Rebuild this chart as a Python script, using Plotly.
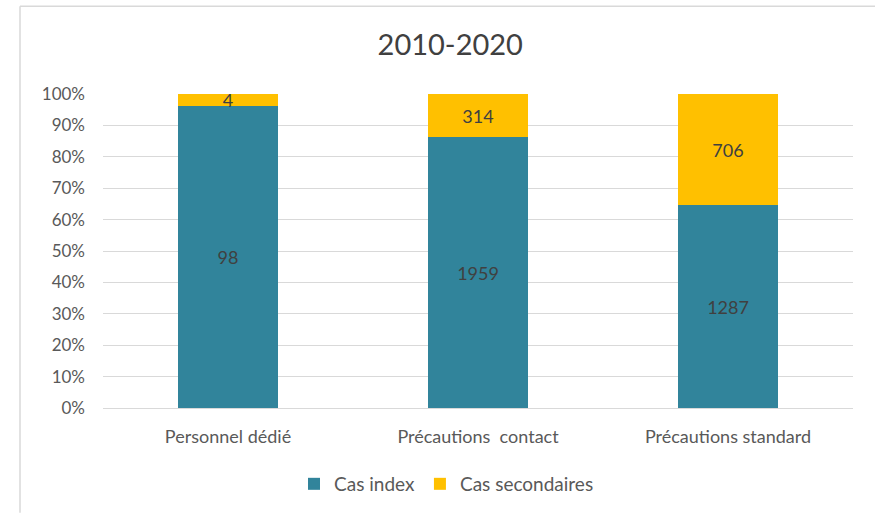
import plotly.graph_objects as go

categories = ["Personnel dédié", "Précautions  contact", "Précautions standard"]
cas_index = [98, 1959, 1287]
cas_secondaires = [4, 314, 706]
y_ticks = list(range(0, 101, 10))

TEAL = "#31849B"
YELLOW = "#FFC000"
FONT = "Lato, Carlito, Calibri, sans-serif"

fig = go.Figure()
fig.add_trace(go.Bar(
    name="Cas index", x=categories, y=cas_index,
    marker=dict(color=TEAL, line=dict(width=0)),
    text=[str(v) for v in cas_index], textposition="inside", textangle=0,
    insidetextanchor="middle", constraintext="none",
    textfont=dict(color="#404040", size=18, family=FONT),
    hoverinfo="skip",
))
fig.add_trace(go.Bar(
    name="Cas secondaires", x=categories, y=cas_secondaires,
    marker=dict(color=YELLOW, line=dict(width=0)),
    text=[str(v) for v in cas_secondaires], textposition="inside", textangle=0,
    insidetextanchor="middle", constraintext="none",
    textfont=dict(color="#404040", size=18, family=FONT),
    hoverinfo="skip",
))

fig.update_layout(
    width=875, height=514,
    margin=dict(l=103, r=22, t=94, b=105),
    barmode="stack", barnorm="percent", bargap=0.6,
    paper_bgcolor="white", plot_bgcolor="white",
    font=dict(family=FONT, color="#595959", size=18),
    title=dict(text="2010-2020", x=0.463, xref="paper", xanchor="center",
               y=1 - 45 / 514, yref="container", yanchor="middle",
               font=dict(size=29, color="#404040", family=FONT)),
    legend=dict(orientation="h", x=0.458, xanchor="center", y=-0.238,
                yanchor="middle", font=dict(size=19, color="#595959"),
                itemwidth=30, tracegroupgap=0, traceorder="normal"),
    showlegend=True,
)
fig.update_xaxes(showgrid=False, showline=True, linecolor="#d9d9d9", linewidth=1,
                 ticks="", tickfont=dict(size=18, color="#595959"),
                 ticklabelstandoff=12)
fig.update_yaxes(range=[0, 100], tickvals=y_ticks, ticktext=[f"{v}%" for v in y_ticks],
                 showgrid=True, gridcolor="#d9d9d9", gridwidth=1, zeroline=False,
                 showline=False, ticks="", tickfont=dict(size=17, color="#595959"),
                 ticklabelstandoff=17)

# chart area border (top and left edges visible in the reference)
fig.add_shape(type="line", xref="paper", yref="paper",
              x0=(20 - 103) / 750, x1=(875 - 103) / 750,
              y0=(409 - 6) / 315, y1=(409 - 6) / 315,
              line=dict(color="#d9d9d9", width=1.5))
fig.add_shape(type="line", xref="paper", yref="paper",
              x0=(20 - 103) / 750, x1=(20 - 103) / 750,
              y0=(409 - 6) / 315, y1=(409 - 514) / 315,
              line=dict(color="#d9d9d9", width=1.5))

fig.write_html("out.html")
